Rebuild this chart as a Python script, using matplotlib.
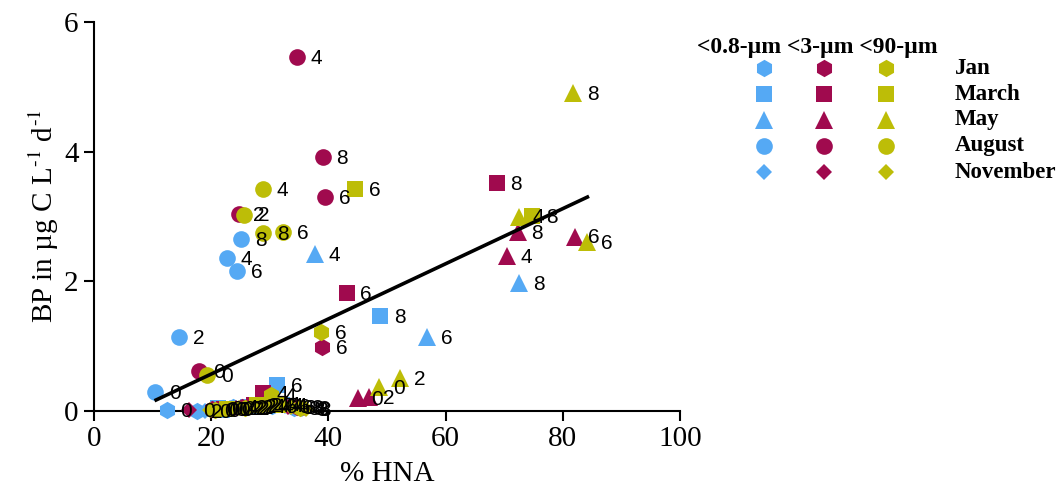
import numpy as np
import matplotlib
matplotlib.use("Agg")
import matplotlib.pyplot as plt

plt.rcParams['mathtext.fontset'] = 'stix'

# size fractions and sampling months
fractions = ['<0.8-\u00b5m', '<3-\u00b5m', '<90-\u00b5m']
frac_colors = ['#55A9F4', '#A00A4E', '#BDBD07']
months = ['Jan', 'March', 'May', 'August', 'November']
month_markers = ['h', 's', '^', 'o', 'D']
month_sizes = [12.5, 11.5, 12.5, 12, 8.5]

# one entry per point: fraction index, month index, day label, %HNA, BP
frac = [0]*25 + [1]*25 + [2]*25
month = ([3]*5 + [2]*5 + [1]*5 + [0]*5 + [4]*5) * 3
day = [0, 2, 4, 6, 8] * 15
hna = [10.4, 14.5, 22.7, 24.4, 25.1,
       21.7, 26.8, 37.7, 56.8, 72.6,
       21.1, 26.3, 32.1, 31.2, 48.8,
       12.4, 17.6, 23.7, 30.4, 34.1,
       18.9, 23.2, 28.3, 32.6, 35.5,
       17.9, 24.7, 34.6, 39.4, 39.0,
       45.0, 46.9, 70.4, 82.0, 72.3,
       22.2, 27.3, 28.8, 43.1, 68.7,
       20.1, 25.2, 30.9, 38.9, 34.6,
       16.2, 24.2, 29.0, 33.1, 35.8,
       19.3, 25.6, 28.8, 32.2, 28.8,
       48.6, 52.2, 72.5, 84.2, 81.8,
       22.7, 27.8, 31.4, 44.5, 74.7,
       20.6, 25.7, 30.2, 38.7, 35.1,
       19.8, 24.7, 29.7, 33.6, 36.1]
bp = [0.29, 1.14, 2.36, 2.16, 2.65,
      0.03, 0.08, 2.42, 1.14, 1.98,
      0.05, 0.06, 0.09, 0.40, 1.47,
      0.02, 0.00, 0.06, 0.08, 0.05,
      0.00, 0.05, 0.08, 0.08, 0.03,
      0.62, 3.04, 5.46, 3.30, 3.92,
      0.20, 0.22, 2.39, 2.69, 2.76,
      0.03, 0.09, 0.28, 1.82, 3.52,
      0.03, 0.06, 0.11, 0.99, 0.06,
      0.02, 0.05, 0.09, 0.06, 0.05,
      0.56, 3.03, 3.43, 2.76, 2.75,
      0.37, 0.51, 3.00, 2.61, 4.91,
      0.03, 0.09, 0.09, 3.43, 3.01,
      0.02, 0.05, 0.25, 1.22, 0.05,
      0.02, 0.05, 0.08, 0.06, 0.03]

# regression line end points
fit_hna = [10.6, 84.2]
fit_bp = [0.17, 3.30]

fig = plt.figure(figsize=(10.62, 4.97), dpi=100)
ax = fig.add_axes([94/1062, 86/497, 586/1062, 389/497])

serif = ['Liberation Serif', 'DejaVu Serif']
sans = ['Liberation Sans', 'DejaVu Sans']

for i in range(len(hna)):
    m = month[i]
    ax.plot(hna[i], bp[i], linestyle='none', marker=month_markers[m],
            markersize=month_sizes[m], color=frac_colors[frac[i]],
            markeredgewidth=0, clip_on=False, zorder=3)
for i in range(len(hna)):
    ax.annotate(str(day[i]), (hna[i], bp[i]), xytext=(10, -1),
                textcoords='offset points', ha='left', va='center',
                fontsize=15, family=sans, annotation_clip=False, zorder=5)

ax.plot(fit_hna, fit_bp, color='black', linewidth=2.6, zorder=4)

ax.set_xlim(0, 100)
ax.set_ylim(0, 6)
ax.set_xticks([0, 20, 40, 60, 80, 100])
ax.set_yticks([0, 2, 4, 6])
for s in ['top', 'right']:
    ax.spines[s].set_visible(False)
for s in ['left', 'bottom']:
    ax.spines[s].set_linewidth(1.5)
ax.tick_params(direction='out', length=7, width=1.5, labelsize=21, pad=4)
for lab in ax.get_xticklabels() + ax.get_yticklabels():
    lab.set_family(serif)
ax.set_xlabel('% HNA', fontsize=21, family=serif, labelpad=6)
ax.set_ylabel('BP in \u00b5g C L$^{\\text{-}1}$ d$^{\\text{-}1}$', fontsize=21,
              family=serif, labelpad=2)

# legend grid drawn in figure pixel space
lg = fig.add_axes([0, 0, 1, 1])
lg.set_xlim(0, 1062)
lg.set_ylim(497, 0)
lg.axis('off')
col_x = [764, 824, 886]
row_y = [68, 94, 120, 146, 172]
lg.text(697, 47, ' '.join(fractions), fontsize=17, fontweight='bold',
        family=serif, ha='left', va='center')
for r, name in enumerate(months):
    for c in range(3):
        lg.plot(col_x[c], row_y[r], linestyle='none', marker=month_markers[r],
                markersize=month_sizes[r], color=frac_colors[c],
                markeredgewidth=0)
    lg.text(955, row_y[r], name, fontsize=16.5, fontweight='bold',
            family=serif, ha='left', va='center')

fig.savefig('out.png', dpi=100)
